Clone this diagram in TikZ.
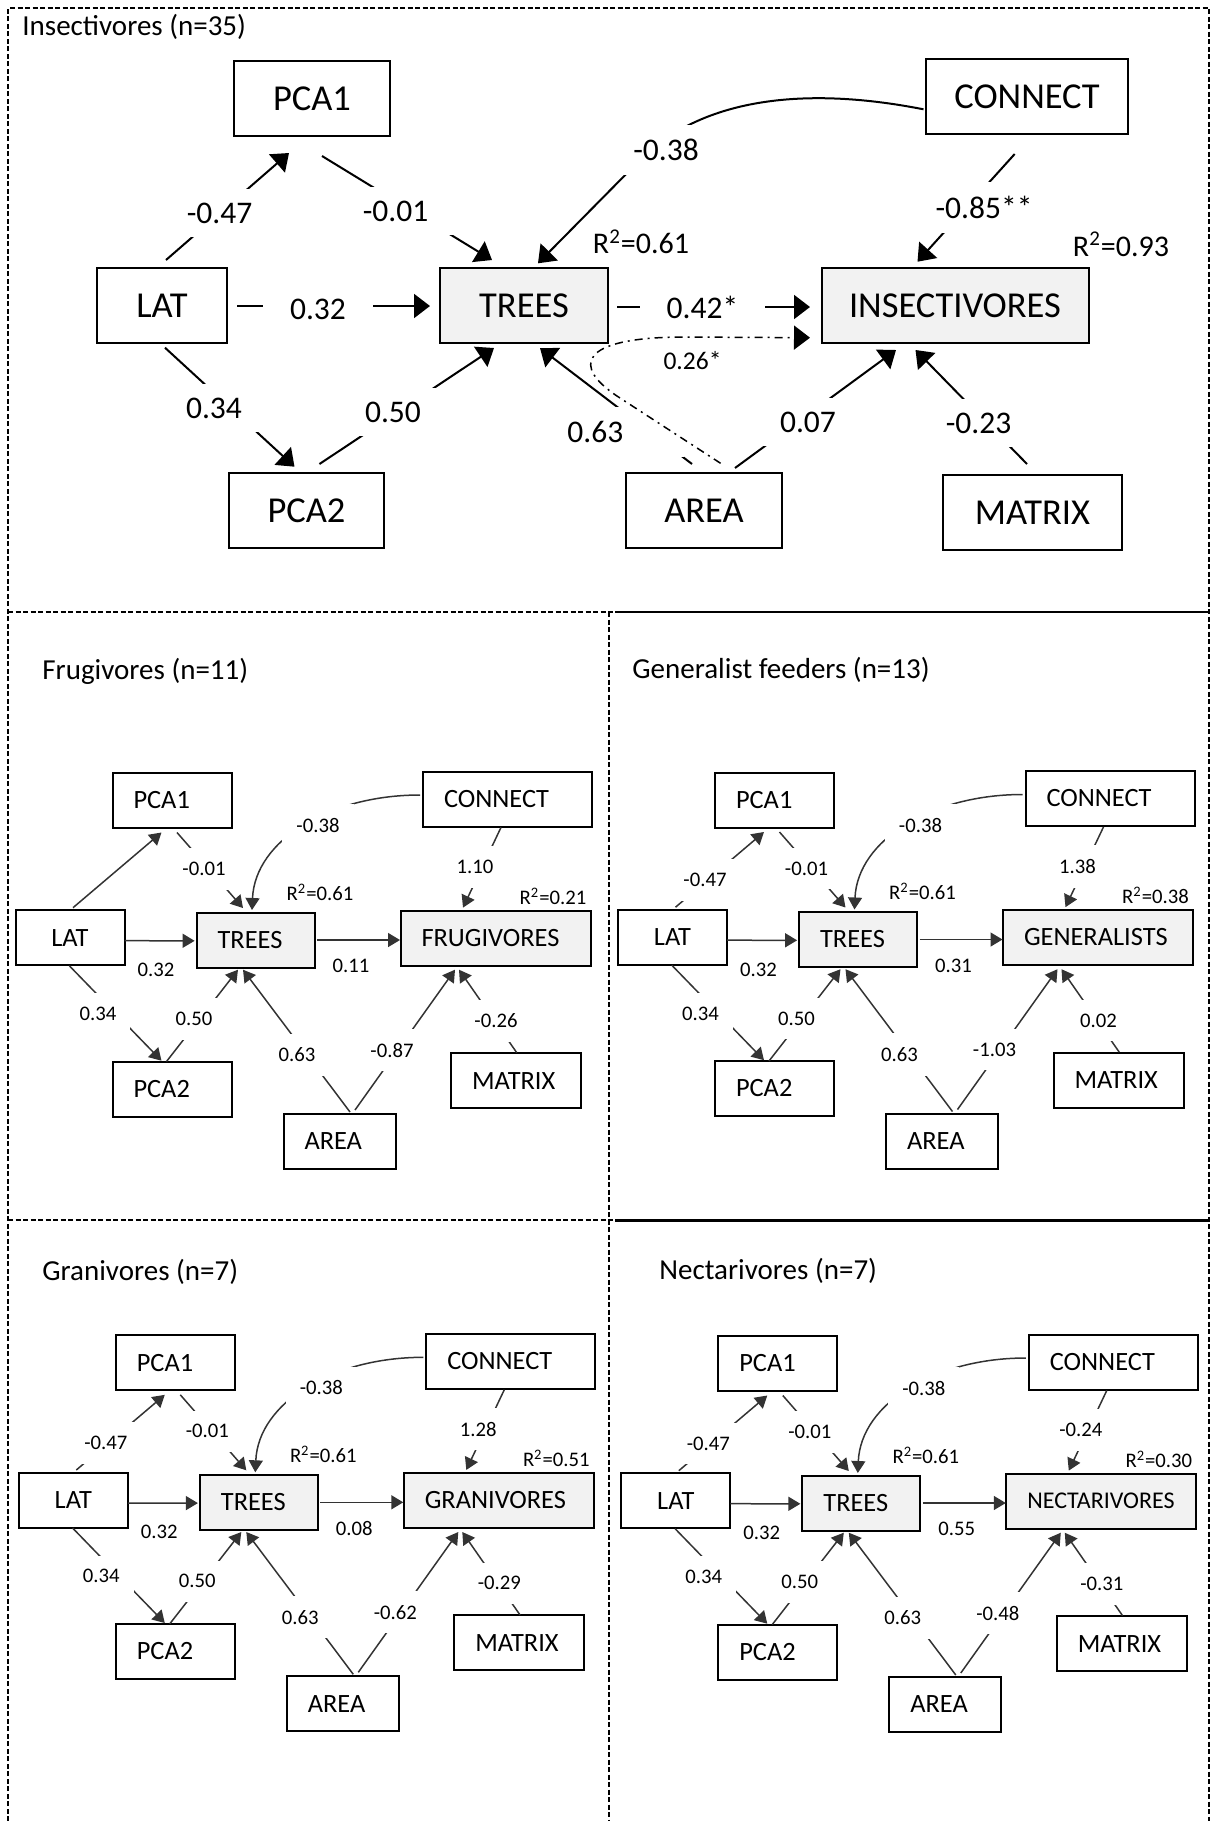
\documentclass[tikz,border=0pt]{standalone}
\usepackage{fontspec}
\setmainfont{Carlito}
\usetikzlibrary{arrows.meta,calc}
\definecolor{boxgray}{HTML}{F2F2F2}
\tikzset{
  tbox/.style={draw, line width=1pt, minimum height=37.5pt, inner sep=0pt, font=\fontsize{18.25}{22}\selectfont},
  sbox/.style={draw, line width=1pt, minimum height=27.5pt, inner xsep=10.5pt, inner ysep=0pt, align=left, font=\fontsize{13.2}{16}\selectfont},
  tarr/.style={line width=1pt, -{Triangle[length=8pt,width=12pt]}},
  sarr/.style={line width=0.75pt, draw=black!80, -{Triangle[length=6pt,width=7pt]}},
  dashdot/.style={line width=0.75pt, dash pattern=on 4pt off 2.5pt on 1pt off 2.5pt, -{Triangle[length=8pt,width=12pt]}},
  tlbl/.style={fill=white, inner xsep=13.5pt, inner ysep=7pt, font=\fontsize{15.75}{19}\selectfont},
  tnum/.style={inner sep=0pt, font=\fontsize{15}{18}\selectfont},
  slbl/.style={fill=white, inner xsep=7pt, inner ysep=7pt, font=\fontsize{10.35}{12}\selectfont},
  snum/.style={inner sep=0pt, font=\fontsize{10.35}{12}\selectfont},
  ttl/.style={anchor=base west, inner sep=0pt, font=\fontsize{14.5}{17}\selectfont},
  frame/.style={line width=1pt, dash pattern=on 2.5pt off 1.25pt},
}
% one small guild panel: origin, prefix, response, connect, R2, trees, area, matrix, lat-pca1
\newcommand{\guild}[9]{%
  \node[sbox, text width=38.5pt] (#2pca1) at ($(#1)+(172,800.5)$) {PCA1};
  \node[sbox, text width=63.5pt] (#2con) at ($(#1)+(507.5,799)$) {CONNECT};
  \node[sbox, minimum width=54.5pt] (#2lat) at ($(#1)+(70,937.7)$) {LAT};
  \node[sbox, fill=boxgray, text width=38pt] (#2trees) at ($(#1)+(255.6,940)$) {TREES};
  \node[sbox, fill=boxgray, text width=74pt] (#2resp) at ($(#1)+(495.5,938)$) {#3};
  \node[sbox, text width=38.5pt] (#2pca2) at ($(#1)+(172,1089)$) {PCA2};
  \node[sbox, text width=44pt] (#2mat) at ($(#1)+(516,1080.6)$) {MATRIX};
  \node[sbox, text width=35pt] (#2area) at ($(#1)+(339.5,1141.5)$) {AREA};
  \draw[sarr] ($(#2lat)+(3,-30)$) -- ($(#2pca1)+(-10.5,32)$);
  \draw[sarr] ($(#2pca1)+(5,32)$) -- ($(#2trees)+(-12.6,-32)$);
  \draw[sarr] ($(#2con)+(-87.5,-4)$) .. controls +(-90,0) and +(3,-70) .. ($(#2trees)+(-3.6,-30)$);
  \draw[sarr] ($(#2con)+(-6.5,28.4)$) -- ($(#2resp)+(-32.5,-30.4)$);
  \draw[sarr] ($(#2lat)+(54.5,3)$) -- ($(#2trees)+(-61,0.8)$);
  \draw[sarr] ($(#2trees)+(61.4,0)$) -- ($(#2resp)+(-95.5,2)$);
  \draw[sarr] ($(#2lat)+(-0.7,28)$) -- ($(#2pca2)+(-10.5,-28.3)$);
  \draw[sarr] ($(#2pca2)+(-5.5,-27.5)$) -- ($(#2trees)+(-17.6,29.7)$);
  \draw[sarr] ($(#2area)+(10.5,-29.5)$) -- ($(#2trees)+(-12.6,29.7)$);
  \draw[sarr] ($(#2area)+(15.5,-31.5)$) -- ($(#2resp)+(-40.5,31.7)$);
  \draw[sarr] ($(#2mat)+(0.7,-28)$) -- ($(#2resp)+(-36.5,31.7)$);
  \if\relax\detokenize{#9}\relax\else\node[slbl] (#2c1) at ($(#1)+(102.5,880.5)$) {#9};\fi
  \node[slbl] (#2c2) at ($(#1)+(204,869)$) {-0.01};
  \node[slbl] (#2c3) at ($(#1)+(318,825.5)$) {-0.38};
  \node[snum] (#2r1) at ($(#1)+(320,892)$) {R\textsuperscript{2}=0.61};
  \node[slbl] (#2c4) at ($(#1)+(475,867)$) {#4};
  \node[snum] (#2r2) at ($(#1)+(553,896)$) {R\textsuperscript{2}=#5};
  \node[snum] (#2c5) at ($(#1)+(156,970)$) {0.32};
  \node[snum] (#2c6) at ($(#1)+(351,966)$) {#6};
  \node[slbl] (#2c7) at ($(#1)+(98,1014)$) {0.34};
  \node[slbl] (#2c8) at ($(#1)+(194,1019)$) {0.50};
  \node[slbl] (#2c9) at ($(#1)+(297,1055)$) {0.63};
  \node[slbl] (#2c10) at ($(#1)+(392,1050)$) {#7};
  \node[slbl] (#2c11) at ($(#1)+(496,1021)$) {#8};
}
\begin{document}
\begin{tikzpicture}[x=0.5pt,y=-0.5pt]
  \useasboundingbox (0,0) rectangle (1210,1821);
  % frames
  \draw[frame] (8,1821) -- (8,8) -- (1209,8) -- (1209,1821);
  \draw[frame] (609,612) -- (609,1821);
  \draw[frame] (8,612) -- (615,612);
  \draw[line width=1pt] (615,612) -- (1209,612);
  \draw[frame] (8,1220) -- (615,1220);
  \draw[line width=1.5pt] (615,1220) -- (1209,1220);
  % titles
  \node[ttl] (t-ins) at (22,35) {Insectivores (n=35)};
  \node[ttl] (t-fru) at (42,679) {Frugivores (n=11)};
  \node[ttl] (t-gen) at (632,678) {Generalist feeders (n=13)};
  \node[ttl] (t-gra) at (42,1280) {Granivores (n=7)};
  \node[ttl] (t-nec) at (659,1279.5) {Nectarivores (n=7)};
  % insectivores
  \node[tbox, minimum width=78pt] (pca1) at (312,98.5) {PCA1};
  \node[tbox, minimum width=65pt] (lat) at (162,305.5) {LAT};
  \node[tbox, fill=boxgray, minimum width=84pt] (trees) at (524,305.5) {TREES};
  \node[tbox, minimum width=77.5pt] (pca2) at (306.5,510.5) {PCA2};
  \node[tbox, fill=boxgray, minimum width=133.5pt] (insect) at (955,305.5) {INSECTIVORES};
  \node[tbox, minimum width=101pt] (connect) at (1027,96.5) {CONNECT};
  \node[tbox, minimum width=78pt] (area) at (704,510.5) {AREA};
  \node[tbox, minimum width=89.5pt] (matrix) at (1032.5,512.5) {MATRIX};
  \draw[tarr] ($(lat)+(4,-45.5)$) -- ($(pca1)+(-23,54.5)$);
  \draw[tarr] ($(pca1)+(10,57.5)$) -- ($(trees)+(-32,-45.5)$);
  \draw[tarr] ($(lat)+(75,0.5)$) -- ($(trees)+(-94,0.5)$);
  \draw[tarr] ($(lat)+(3,42.2)$) -- ($(pca2)+(-12,-43.8)$);
  \draw[tarr] ($(pca2)+(13,-46.5)$) -- ($(trees)+(-30,42.5)$);
  \draw[tarr] ($(area)+(-12,-46.5)$) -- ($(trees)+(16,42.5)$);
  \draw[tarr] ($(area)+(31,-42.5)$) -- ($(insect)+(-59,44.5)$);
  \draw[tarr] ($(matrix)+(-5.5,-48.5)$) -- ($(insect)+(-39.5,44.5)$);
  \draw[tarr] ($(trees)+(93,1.5)$) -- ($(insect)+(-145,1.5)$);
  \draw[tarr] ($(connect)+(-12.3,57.5)$) -- ($(insect)+(-37.5,-43.8)$);
  \draw[tarr] ($(connect)+(-103.5,12.8)$) .. controls +(-123.5,-24.3) and +(60,-60) .. ($(trees)+(116,-145.5)$) -- ($(trees)+(14,-42.2)$);
  \node[tlbl] (c1) at (219.5,213) {-0.47};
  \node[tlbl] (c2) at (395.5,211) {-0.01};
  \node[tlbl] (c3) at (318,309) {0.32};
  \node[tlbl] (c4) at (214,408) {0.34};
  \node[tlbl] (c5) at (393,412) {0.50};
  \node[tlbl, text width=45pt, align=left, anchor=west] (c6) at (540,432) {0.63};
  \node[tlbl] (c7) at (808,422) {0.07};
  \node[tlbl] (c8) at (978.5,423) {-0.23};
  \node[tlbl] (c9) at (702.5,307) {0.42*};
  \node[tlbl] (c10) at (984,207.5) {-0.85**};
  \node[tlbl] (c11) at (666,150) {-0.38};
  \node[tnum] (r1) at (641,242) {R\textsuperscript{2}=0.61};
  \node[tnum] (r2) at (1121,244.5) {R\textsuperscript{2}=0.93};
  \draw[dashdot] ($(area)+(16.6,-47.2)$) -- ($(area)+(-84,-112.5)$) .. controls +(-50,-32) and +(-100,1) .. ($(insect)+(-275,31.5)$) -- ($(insect)+(-145,32.2)$);
  \node[tnum, font=\fontsize{12.75}{15}\selectfont] (c12) at (692.5,360.5) {0.26*};
  % other guilds
  \coordinate (fruO) at (0,0);
  \guild{fruO}{fru}{FRUGIVORES}{1.10}{0.21}{0.11}{-0.87}{-0.26}{}
  \coordinate (genO) at (602.5,-0.5);
  \guild{genO}{gen}{GENERALISTS}{1.38}{0.38}{0.31}{-1.03}{0.02}{-0.47}
  \coordinate (graO) at (3.3,562.3);
  \guild{graO}{gra}{GRANIVORES}{1.28}{0.51}{0.08}{-0.62}{-0.29}{-0.47}
  \coordinate (necO) at (605.8,563);
  \guild{necO}{nec}{{\fontsize{12}{14}\selectfont NECTARIVORES}}{-0.24}{0.30}{0.55}{-0.48}{-0.31}{-0.47}
\end{tikzpicture}
\end{document}
